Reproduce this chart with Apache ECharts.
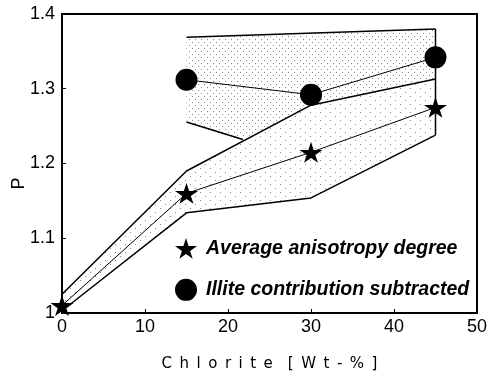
<!DOCTYPE html>
<html>
<head>
<meta charset="utf-8">
<script src="https://cdn.jsdelivr.net/npm/echarts@6/dist/echarts.min.js"></script>
<style>
  html, body {margin: 0; padding: 0; background: #fff;}
  #chart {width: 489px; height: 377px;}
</style>
</head>
<body>
<div id="chart"></div>
<script>
// chlorite content [Wt-%] and anisotropy degree P
var chlorite = [0, 15, 30, 45];
var avgP = [1.01, 1.16, 1.215, 1.275];
var avgUpper = [1.025, 1.19, 1.278, 1.313];
var avgLower = [1.003, 1.134, 1.154, 1.238];

var illiteX = [15, 30, 45];
var illiteP = [1.312, 1.292, 1.342];
var illiteTop = [[15, 1.369], [45, 1.38]];
var illiteBottom = [[15, 1.2555], [21.8, 1.232]];

var xTicks = [0, 10, 20, 30, 40, 50];
var yTicks = [1, 1.1, 1.2, 1.3, 1.4];

var starPath = 'path://M50,0 L61,35 L98,35 L68,57 L79,91 L50,70 L21,91 L32,57 L2,35 L39,35 Z';

// dotted fill patterns
function dots(w, h, pts, color) {
  var c = document.createElement('canvas');
  c.width = w; c.height = h;
  var ctx = c.getContext('2d');
  ctx.fillStyle = color;
  pts.forEach(function (p) { ctx.fillRect(p[0], p[1], 1, 1); });
  return {image: c, repeat: 'repeat'};
}
var denseDots = dots(6, 6, [[0, 0], [3, 3]], '#888');
var sparseDots = dots(10, 8, [[0, 0], [5, 4]], '#888');

var zip = function (xs, ys) { return xs.map(function (x, i) { return [x, ys[i]]; }); };

var avgBand = zip(chlorite, avgUpper).concat(zip(chlorite, avgLower).reverse());
var illiteBand = illiteTop.concat([[45, avgUpper[3]], [30, avgUpper[2]]], illiteBottom.slice().reverse());

function polygon(data, fill) {
  return {
    type: 'custom',
    silent: true,
    data: data,
    z: 1,
    renderItem: function (params, api) {
      if (params.dataIndex !== 0) return;
      return {
        type: 'polygon',
        shape: {points: data.map(function (d) { return api.coord(d); })},
        style: {fill: fill, stroke: null}
      };
    }
  };
}

function edge(data, width) {
  return {
    type: 'line', data: data, symbol: 'none', silent: true, z: 2,
    lineStyle: {color: '#000', width: width}
  };
}

var names = ['Average anisotropy degree', 'Illite contribution subtracted'];

var chart = echarts.init(document.getElementById('chart'));
chart.setOption({
  animation: false,
  textStyle: {fontFamily: 'Liberation Sans'},
  grid: {
    left: 62, right: 12, top: 14, bottom: 64,
    outerBoundsMode: 'none', containLabel: false,
    show: true, borderColor: '#000', borderWidth: 2
  },
  legend: {
    orient: 'vertical',
    left: 170, top: 233,
    itemWidth: 22, itemHeight: 22, itemGap: 20,
    selectedMode: false,
    data: [{name: names[0], icon: starPath}, {name: names[1], icon: 'circle'}],
    textStyle: {
      fontSize: 19.5, fontStyle: 'italic', fontWeight: 'bold', color: '#000',
      fontFamily: 'Liberation Sans', padding: [0, 0, 0, 4]
    }
  },
  xAxis: {
    type: 'value', min: 0, max: 50, interval: 10,
    name: 'C\u2002h\u2002l\u2002o\u2002r\u2002i\u2002t\u2002e\u2002\u2002[\u2002W\u2002t\u2002-\u2002%\u2002]',
    nameLocation: 'middle', nameGap: 44, nameMoveOverlap: false,
    nameTextStyle: {fontFamily: 'DejaVu Sans', fontSize: 15, color: '#000'},
    axisLine: {lineStyle: {color: '#000', width: 2}},
    axisTick: {inside: true, length: 4, lineStyle: {color: '#000'}},
    splitLine: {show: false},
    axisLabel: {
      fontSize: 18, color: '#000', margin: 5,
      formatter: function (v) { return xTicks.indexOf(v) >= 0 ? String(v) : ''; }
    }
  },
  yAxis: {
    type: 'value', min: 1, max: 1.4, interval: 0.1,
    name: 'P', nameLocation: 'middle', nameGap: 34, nameMoveOverlap: false,
    nameTextStyle: {fontSize: 18, color: '#000', padding: [0, 40, 0, 0]},
    axisLine: {lineStyle: {color: '#000', width: 2}},
    axisTick: {inside: true, length: 4, lineStyle: {color: '#000'}},
    splitLine: {show: false},
    axisLabel: {
      fontSize: 18, color: '#000', margin: 7,
      formatter: function (v) {
        var t = yTicks.find(function (y) { return Math.abs(y - v) < 1e-6; });
        if (t === undefined) return '';
        return t === 1 ? '1' : t.toFixed(1);
      }
    }
  },
  series: [
    polygon(avgBand, sparseDots),
    polygon(illiteBand, denseDots),
    edge(zip(chlorite, avgUpper), 1.5),
    edge(zip(chlorite, avgLower), 1.5),
    edge(illiteTop, 1.5),
    edge(illiteBottom, 1.5),
    edge([[45, avgLower[3]], [45, illiteTop[1][1]]], 1.5),
    {
      name: names[0], type: 'line', data: zip(chlorite, avgP), z: 3,
      symbol: starPath, symbolSize: [23, 22], symbolKeepAspect: true,
      itemStyle: {color: '#000'}, lineStyle: {color: '#000', width: 1}
    },
    {
      name: names[1], type: 'line', data: zip(illiteX, illiteP), z: 3,
      symbol: 'circle', symbolSize: 22,
      itemStyle: {color: '#000'}, lineStyle: {color: '#000', width: 1}
    }
  ]
});
</script>
</body>
</html>
